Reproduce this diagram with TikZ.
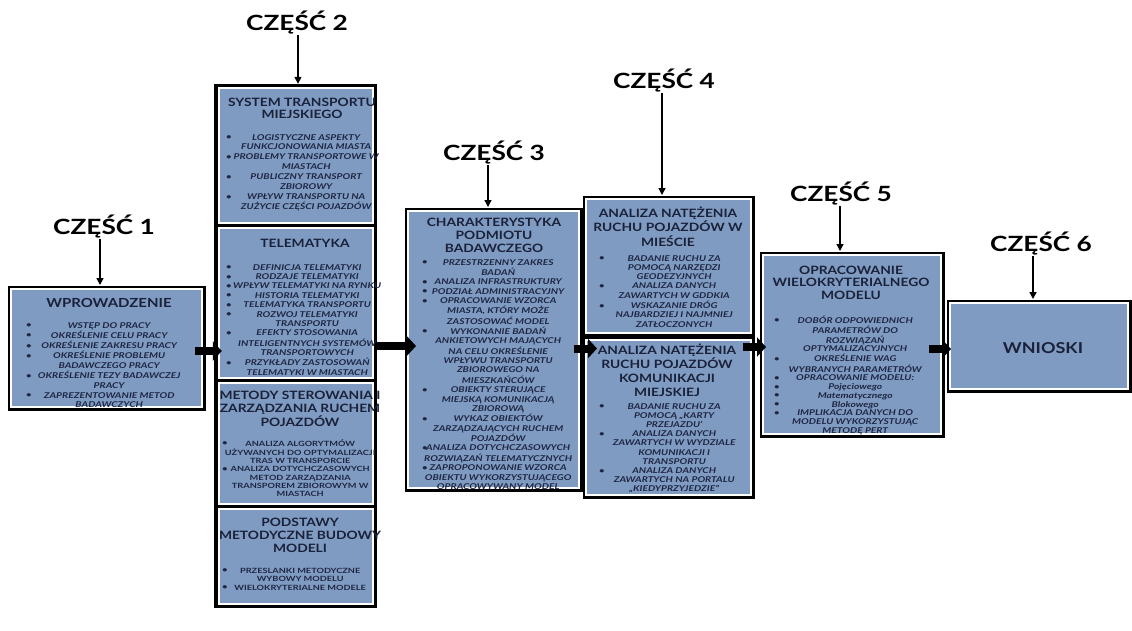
\documentclass[tikz,border=0pt]{standalone}
\usepackage{fontspec}
\setmainfont{Lato}
\newfontfamily\tfont[FakeStretch=1.2]{Lato}
\newfontfamily\bfont[FakeStretch=1.28]{Lato}
\newfontfamily\lfont[FakeStretch=1.25]{Lato}
\usepackage{array}
\usetikzlibrary{arrows.meta,fit}
\definecolor{boxblue}{RGB}{127,155,193}
\definecolor{navy}{RGB}{26,33,58}
\definecolor{txtblue}{RGB}{30,38,68}
\newcommand\lne[1]{\makebox[0pt]{#1}}
\newcommand\blt{\raisebox{0.4pt}{\fontsize{7.5}{7.5}\selectfont\textbullet}}
\newcommand\ttlf[1]{\tfont\bfseries\fontsize{11.5}{#1}\selectfont}
\newcommand\lstf[1]{\bfont\bfseries\itshape\fontsize{8}{#1}\selectfont}
\newcommand\lstu[1]{\bfont\bfseries\fontsize{7.2}{#1}\selectfont}
\begin{document}
\begin{tikzpicture}[x=1pt,y=-1pt,
  panel/.style={draw=white,line width=2pt,fill=boxblue,inner sep=0pt,preaction={draw=black,line width=7pt}},
  subpanel/.style={draw=white,line width=2pt,fill=boxblue,inner sep=0pt},
  ttl/.style={text=navy,inner sep=0pt,anchor=base},
  lst/.style={text=txtblue,inner sep=0pt,anchor=base west},
  lbl/.style={font=\lfont\bfseries\fontsize{21}{24}\selectfont,inner sep=1pt,anchor=base},
  bigarrow/.style={line width=8pt,-{Triangle[length=9pt,width=19pt]}},
  downarrow/.style={line width=1.4pt,-{Triangle[length=7pt,width=7pt]}}]
\path[use as bounding box,fill=white] (0,0) rectangle (1132,630);

% panels
\node[panel,fit={(11,289) (202,407)}] (p1) {};
\node[fill=black,inner sep=0pt,fit={(214,84) (377,608)}] (p2) {};
\node[subpanel,fit={(219,88) (373,223)}] (p2a) {};
\node[subpanel,fit={(219,228) (373,378)}] (p2b) {};
\node[subpanel,fit={(219,383) (373,504)}] (p2c) {};
\node[subpanel,fit={(219,509) (373,604)}] (p2d) {};
\node[panel,fit={(408,211) (579,488)}] (p3) {};
\node[panel,fit={(586,199) (751,333)}] (p4a) {};
\node[panel,fit={(586,340) (751,495)}] (p4b) {};
\node[panel,fit={(763,255) (941,434)}] (p5) {};
\node[panel,fit={(950,303) (1128,389)}] (p6) {};

% labels
\node[lbl] (l1) at (104,234) {CZĘŚĆ 1};
\node[lbl] (l2) at (297,30) {CZĘŚĆ 2};
\node[lbl] (l3) at (494,160) {CZĘŚĆ 3};
\node[lbl] (l4) at (664,88) {CZĘŚĆ 4};
\node[lbl] (l5) at (841,201) {CZĘŚĆ 5};
\node[lbl] (l6) at (1041,251) {CZĘŚĆ 6};

\draw[downarrow] ([xshift=-4pt]l1.south) -- ([xshift=-4pt,yshift=3pt]l1.south |- p1.north);
\draw[downarrow] ([xshift=1pt]l2.south) -- ([xshift=1pt]l2.south |- p2.north);
\draw[downarrow] ([xshift=-6pt]l3.south) -- ([xshift=-6pt,yshift=3pt]l3.south |- p3.north);
\draw[downarrow] ([xshift=-2pt]l4.south) -- ([xshift=-2pt,yshift=3pt]l4.south |- p4a.north);
\draw[downarrow] ([xshift=-1pt]l5.south) -- ([xshift=-1pt,yshift=3pt]l5.south |- p5.north);
\draw[downarrow] ([xshift=-8pt]l6.south) -- ([xshift=-8pt,yshift=3pt]l6.south |- p6.north);

% thick arrows
\draw[bigarrow] ([xshift=-8pt,yshift=-3pt]p1.east) -- ([xshift=8pt,yshift=-3pt]p1.east -| p2.west);
\draw[bigarrow] ([xshift=-2pt]p2.east) -- ([xshift=9pt]p2.east -| p3.west);
\draw[bigarrow] ([xshift=-6pt,yshift=1pt]p3.east) -- ([xshift=12pt,yshift=1pt]p3.east -| p4b.west);
\draw[bigarrow] ([xshift=-9pt,yshift=-8pt]p4b.north east) -- ([xshift=4pt,yshift=-8pt]p4b.north east -| p5.west);
\draw[bigarrow] ([xshift=-13pt,yshift=-4.5pt]p5.east) -- ([xshift=2pt,yshift=-4.5pt]p5.east -| p6.west);

% Part 1
\node[ttl,font={\tfont\bfseries\fontsize{12.5}{13}\selectfont}] (t1) at (109,307) {\begin{tabular}[t]{@{}c@{}}WPROWADZENIE\end{tabular}};
\node[lst,font={\lstf{9.6}}] (b1) at (26,328) {\begin{tabular}[t]{@{}p{7pt}@{}>{\centering\arraybackslash}p{152pt}@{}}
\blt & \lne{WSTĘP DO PRACY}\\
\blt & \lne{OKREŚLENIE CELU PRACY}\\
\blt & \lne{OKREŚLENIE ZAKRESU PRACY}\\
\blt & \lne{OKREŚLENIE PROBLEMU}\\
 & \lne{BADAWCZEGO PRACY}\\
\blt & \lne{OKREŚLENIE TEZY BADAWCZEJ}\\
 & \lne{PRACY}\\
\blt & \lne{ZAPREZENTOWANIE METOD}\\
 & \lne{BADAWCZYCH}
\end{tabular}};

% Part 2A
\node[ttl,font={\ttlf{12}}] (t2a) at (302,106) {\begin{tabular}[t]{@{}c@{}}SYSTEM TRANSPORTU\\MIEJSKIEGO\end{tabular}};
\node[lst,font={\lstf{9.9}}] (b2a) at (226,140) {\begin{tabular}[t]{@{}p{7pt}@{}>{\centering\arraybackslash}p{146pt}@{}}
\blt & \lne{LOGISTYCZNE ASPEKTY}\\
 & \lne{FUNKCJONOWANIA MIASTA}\\
\blt & \lne{PROBLEMY TRANSPORTOWE W}\\
 & \lne{MIASTACH}\\
\blt & \lne{PUBLICZNY TRANSPORT}\\
 & \lne{ZBIOROWY}\\
\blt & \lne{WPŁYW TRANSPORTU NA}\\
 & \lne{ZUŻYCIE CZĘŚCI POJAZDÓW}
\end{tabular}};

% Part 2B
\node[ttl,font={\ttlf{12}}] (t2b) at (305,247) {\begin{tabular}[t]{@{}c@{}}TELEMATYKA\end{tabular}};
\node[lst,font={\lstf{9.4}}] (b2b) at (226,270) {\begin{tabular}[t]{@{}p{7pt}@{}>{\centering\arraybackslash}p{148pt}@{}}
\blt & \lne{DEFINICJA TELEMATYKI}\\
\blt & \lne{RODZAJE TELEMATYKI}\\
\blt & \lne{WPŁYW TELEMATYKI NA RYNKU}\\
\blt & \lne{HISTORIA TELEMATYKI}\\
\blt & \lne{TELEMATYKA TRANSPORTU}\\
\blt & \lne{ROZWOJ TELEMATYKI}\\
 & \lne{TRANSPORTU}\\
\blt & \lne{EFEKTY STOSOWANIA}\\
 & \lne{INTELIGENTNYCH SYSTEMÓW}\\
 & \lne{TRANSPORTOWYCH}\\
\blt & \lne{PRZYKŁADY ZASTOSOWAŃ}\\
 & \lne{TELEMATYKI W MIASTACH}
\end{tabular}};

% Part 2C
\node[ttl,font={\ttlf{13}}] (t2c) at (300,399) {\begin{tabular}[t]{@{}c@{}}METODY STEROWANIA I\\ZARZĄDZANIA RUCHEM\\POJAZDÓW\end{tabular}};
\node[lst,font={\lstu{8.3}}] (b2c) at (222,446) {\begin{tabular}[t]{@{}p{7pt}@{}>{\centering\arraybackslash}p{142pt}@{}}
\blt & \lne{ANALIZA ALGORYTMÓW}\\
 & \lne{UŻYWANYCH DO OPTYMALIZACJI}\\
 & \lne{TRAS W TRANSPORCIE}\\
\blt & \lne{ANALIZA DOTYCHCZASOWYCH}\\
 & \lne{METOD ZARZĄDZANIA}\\
 & \lne{TRANSPOREM ZBIOROWYM W}\\
 & \lne{MIASTACH}
\end{tabular}};

% Part 2D
\node[ttl,font={\ttlf{13}}] (t2d) at (300,526) {\begin{tabular}[t]{@{}c@{}}PODSTAWY\\METODYCZNE BUDOWY\\MODELI\end{tabular}};
\node[lst,font={\lstu{8.5}}] (b2d) at (222,573) {\begin{tabular}[t]{@{}p{7pt}@{}>{\centering\arraybackslash}p{142pt}@{}}
\blt & \lne{PRZESLANKI METODYCZNE}\\
 & \lne{WYBOWY MODELU}\\
\blt & \lne{WIELOKRYTERIALNE MODELE}
\end{tabular}};

% Part 3
\node[ttl,font={\ttlf{13}}] (t3) at (494,226) {\begin{tabular}[t]{@{}c@{}}CHARAKTERYSTYKA\\PODMIOTU\\BADAWCZEGO\end{tabular}};
\node[lst,font={\lstf{9.43}}] (b3) at (422,265) {\begin{tabular}[t]{@{}p{7pt}@{}>{\centering\arraybackslash}p{138pt}@{}}
\blt & \lne{PRZESTRZENNY ZAKRES}\\
 & \lne{BADAŃ}\\
\blt & \lne{ANALIZA INFRASTRUKTURY}\\
\blt & \lne{PODZIAŁ ADMINISTRACYJNY}\\
\blt & \lne{OPRACOWANIE WZORCA}\\
 & \lne{MIASTA, KTÓRY MOŻE}\\
 & \lne{ZASTOSOWAĆ MODEL}\\
\blt & \lne{WYKONANIE BADAŃ}\\
 & \lne{ANKIETOWYCH MAJĄCYCH}\\
 & \lne{NA CELU OKREŚLENIE}\\
 & \lne{WPŁYWU TRANSPORTU}\\
 & \lne{ZBIOROWEGO NA}\\
 & \lne{MIESZKAŃCÓW}\\
\blt & \lne{OBIEKTY STERUJĄCE}\\
 & \lne{MIEJSKĄ KOMUNIKACJĄ}\\
 & \lne{ZBIOROWĄ}\\
\blt & \lne{WYKAZ OBIEKTÓW}\\
 & \lne{ZARZĄDZAJĄCYCH RUCHEM}\\
 & \lne{POJAZDÓW}\\
\blt & \lne{ANALIZA DOTYCHCZASOWYCH}\\
 & \lne{ROZWIĄZAŃ TELEMATYCZNYCH}\\
\blt & \lne{ZAPROPONOWANIE WZORCA}\\
 & \lne{OBIEKTU WYKORZYSTUJĄCEGO}\\
 & \lne{OPRACOWYWANY MODEL}
\end{tabular}};

% Part 4A
\node[ttl,font={\ttlf{13.5}}] (t4a) at (668,217) {\begin{tabular}[t]{@{}c@{}}ANALIZA NATĘŻENIA\\RUCHU POJAZDÓW W\\MIEŚCIE\end{tabular}};
\node[lst,font={\lstf{9.3}}] (b4a) at (599,261) {\begin{tabular}[t]{@{}p{7pt}@{}>{\centering\arraybackslash}p{136pt}@{}}
\blt & \lne{BADANIE RUCHU ZA}\\
 & \lne{POMOCĄ NARZĘDZI}\\
 & \lne{GEODEZYJNYCH}\\
\blt & \lne{ANALIZA DANYCH}\\
 & \lne{ZAWARTYCH W GDDKIA}\\
\blt & \lne{WSKAZANIE DRÓG}\\
 & \lne{NAJBARDZIEJ I NAJMNIEJ}\\
 & \lne{ZATŁOCZONYCH}
\end{tabular}};

% Part 4B
\node[ttl,font={\ttlf{13.7}}] (t4b) at (667,354) {\begin{tabular}[t]{@{}c@{}}ANALIZA NATĘŻENIA\\RUCHU POJAZDÓW\\KOMUNIKACJI\\MIEJSKIEJ\end{tabular}};
\node[lst,font={\lstf{9.2}}] (b4b) at (599,409) {\begin{tabular}[t]{@{}p{7pt}@{}>{\centering\arraybackslash}p{136pt}@{}}
\blt & \lne{BADANIE RUCHU ZA}\\
 & \lne{POMOCĄ „KARTY}\\
 & \lne{PRZEJAZDU’}\\
\blt & \lne{ANALIZA DANYCH}\\
 & \lne{ZAWARTYCH W WYDZIALE}\\
 & \lne{KOMUNIKACJI I}\\
 & \lne{TRANSPORTU}\\
\blt & \lne{ANALIZA DANYCH}\\
 & \lne{ZAWARTYCH NA PORTALU}\\
 & \lne{„KIEDYPRZYJEDZIE”}
\end{tabular}};

% Part 5
\node[ttl,font={\ttlf{12.5}}] (t5) at (851,274) {\begin{tabular}[t]{@{}c@{}}OPRACOWANIE\\WIELOKRYTERIALNEGO\\MODELU\end{tabular}};
\node[lst,font={\lstf{8.75}}] (b5) at (774,323) {\begin{tabular}[t]{@{}p{7pt}@{}>{\centering\arraybackslash}p{148pt}@{}}
\blt & \lne{DOBÓR ODPOWIEDNICH}\\
 & \lne{PARAMETRÓW DO}\\
 & \lne{ROZWIĄZAŃ}\\
 & \lne{OPTYMALIZACYJNYCH}\\
\blt & \lne{OKREŚLENIE WAG}\\
 & \lne{WYBRANYCH PARAMETRÓW}\\
\blt & \lne{OPRACOWANIE MODELU:}\\
\blt & \lne{Pojęciowego}\\
\blt & \lne{Matematycznego}\\
\blt & \lne{Blokowego}\\
\blt & \lne{IMPLIKACJA DANYCH DO}\\
 & \lne{MODELU WYKORZYSTUJĄC}\\
 & \lne{METODĘ PERT}
\end{tabular}};

% Part 6
\node[text=navy,font={\tfont\bfseries\fontsize{15}{18}\selectfont},inner sep=0pt] (t6) at (1043,348) {WNIOSKI};
\end{tikzpicture}
\end{document}
